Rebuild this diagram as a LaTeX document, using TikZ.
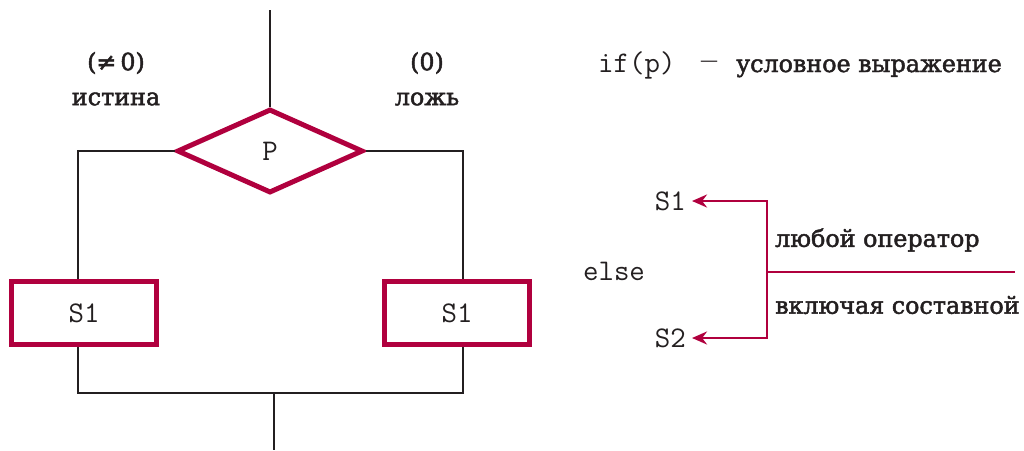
\documentclass[tikz,border=0pt]{standalone}
\usepackage{fontspec}
\setmainfont{DejaVu Serif}
\newfontfamily\serfam{DejaVu Serif}[FakeBold=2]
\newfontfamily\dashfam{DejaVu Serif}
\usetikzlibrary{shapes.geometric,arrows.meta,calc}
\definecolor{crim}{RGB}{176,0,62}
\definecolor{ink}{RGB}{35,31,32}
\newcommand{\monofnt}{\fontsize{30}{34}\selectfont\ttfamily}
\newcommand{\serfnt}{\fontsize{23.8}{28}\selectfont\serfam}
\tikzset{
  blk/.style={draw=ink,line width=2.6pt},
  redline/.style={draw=crim,line width=2.6pt},
  redbox/.style={draw=crim,line width=5pt,rectangle,minimum width=145pt,minimum height=63pt,inner sep=0pt,font=\monofnt,text=ink},
  dia/.style={draw=crim,line width=5pt,diamond,minimum width=186pt,minimum height=84pt,inner sep=0pt,font=\monofnt,text=ink,line join=miter},
  lbl/.style={font=\serfnt,text=ink,inner sep=0pt},
  mono/.style={font=\monofnt,text=ink,inner sep=0pt}
}
\begin{document}
\begin{tikzpicture}[x=1pt,y=-1pt]
\useasboundingbox (0,0) rectangle (1024,450);
% left diagram
\coordinate (top) at (270,10);
\node[dia] (d) at (270,151) {P};
\node[redbox] (b1) at (84,313) {S1};
\node[redbox] (b2) at (457,313) {S1};
\coordinate (jl) at (78,393);
\coordinate (jr) at (463,393);
\coordinate (j) at (274,393);
\coordinate (out) at (274,450);
\draw[blk] (top) -- (d.north);
\draw[blk] (d.west) -| ([xshift=-6pt]b1.north);
\draw[blk] (d.east) -| ([xshift=6pt]b2.north);
\draw[blk] ([xshift=-6pt]b1.south) -- (jl) -- (jr) -- ([xshift=6pt]b2.south);
\draw[blk] (j) -- (out);
\node[lbl] (ne) at (116,63) {(≠\hspace{4pt}0)};
\node[lbl] (ist) at (116,99) {истина};
\node[lbl] (z) at (427,63) {(0)};
\node[lbl] (lozh) at (427,99) {ложь};
% right part
\node[mono,anchor=base west] (ifp) at (598,72) {if(p)};
\node[text=ink,inner sep=0pt,font=\fontsize{18}{20}\selectfont\dashfam] (dash) at (709,64) {—};
\node[lbl,anchor=base west] (cond) at (736,72) {условное выражение};
\node[mono,anchor=east] (s1) at (686,201) {S1};
\node[mono,anchor=east] (s2) at (686,338) {S2};
\node[mono] (els) at (614,271) {else};
\coordinate (v1) at (767,201);
\coordinate (v2) at (767,338);
\coordinate (vm) at (767,272);
\coordinate (hend) at (1015,272);
\draw[redline,{Stealth[length=15pt,width=13pt]}-{Stealth[length=15pt,width=13pt]}] ([xshift=6pt]s1.east) -- (v1) -- (v2) -- ([xshift=6pt]s2.east);
\draw[redline] (vm) -- (hend);
\node[lbl,anchor=west] (any) at (775,240) {любой оператор};
\node[lbl,anchor=west] (incl) at (775,305) {включая составной};
\end{tikzpicture}
\end{document}
